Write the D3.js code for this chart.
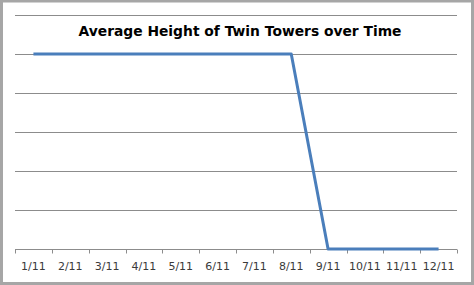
<!DOCTYPE html>
<html>
<head>
<meta charset="utf-8">
<script src="https://cdn.jsdelivr.net/npm/d3@7"></script>
<style>
  html, body { margin: 0; padding: 0; background: #fff; }
  svg { display: block; }
</style>
</head>
<body>
<svg id="chart" width="474" height="285"></svg>
<script>
const title = "Average Height of Twin Towers over Time";
const months = ["1/11","2/11","3/11","4/11","5/11","6/11","7/11","8/11","9/11","10/11","11/11","12/11"];
const heights = [5,5,5,5,5,5,5,5,0,0,0,0];
const yTicks = [0,1,2,3,4,5,6];

const W = 474, H = 285;
const margin = {left: 15, right: 17, top: 15, bottom: 36};
const svg = d3.select("#chart");

svg.append("rect").attr("x",0).attr("y",0).attr("width",W).attr("height",H).attr("fill","#fff");

const x = d3.scaleBand().domain(months).range([margin.left, W - margin.right]);
const y = d3.scaleLinear().domain([0, 6]).range([H - margin.bottom, margin.top]);

// gridlines
svg.append("g").selectAll("line").data(yTicks.filter(d => d > 0)).join("line")
  .attr("x1", margin.left).attr("x2", W - margin.right)
  .attr("y1", d => Math.round(y(d)) + 0.5).attr("y2", d => Math.round(y(d)) + 0.5)
  .attr("stroke", "#8c8c8c").attr("stroke-width", 1.2);

// x axis
const xAxis = d3.axisBottom(x).tickSize(0).tickPadding(13);
const gx = svg.append("g").attr("transform", `translate(0,${Math.round(y(0)) + 0.5})`).call(xAxis);
gx.select(".domain").attr("stroke", "#8c8c8c").attr("d", `M${margin.left},0H${W - margin.right}`);
gx.selectAll(".tick text")
  .attr("font-family", "'DejaVu Sans', Verdana, sans-serif")
  .attr("font-size", 11).attr("fill", "#3a3a3a");
const bounds = months.map(m => x(m)).concat([x(months[months.length-1]) + x.bandwidth()]);
gx.append("g").selectAll("line").data(bounds).join("line")
  .attr("x1", d => Math.round(d) + 0.5).attr("x2", d => Math.round(d) + 0.5)
  .attr("y1", 0).attr("y2", 4)
  .attr("stroke", "#8c8c8c");

// line
const line = d3.line()
  .x((d, i) => x(months[i]) + x.bandwidth() / 2)
  .y(d => y(d));
svg.append("path").datum(heights)
  .attr("d", line)
  .attr("fill", "none")
  .attr("stroke", "#4a7ebb")
  .attr("stroke-width", 3)
  .attr("stroke-linejoin", "round");

// title
svg.append("text")
  .attr("x", 240).attr("y", 36)
  .attr("text-anchor", "middle")
  .attr("font-family", "'Comic Sans MS', 'DejaVu Sans', sans-serif")
  .attr("font-weight", "bold")
  .attr("font-size", 14)
  .attr("textLength", 323)
  .attr("lengthAdjust", "spacingAndGlyphs")
  .attr("fill", "#000")
  .text(title);

// outer frame
svg.append("rect").attr("x",1.5).attr("y",1).attr("width",W-3).attr("height",H-2.5)
  .attr("fill","none").attr("stroke","#a6a6a6").attr("stroke-width",3);
</script>
</body>
</html>
